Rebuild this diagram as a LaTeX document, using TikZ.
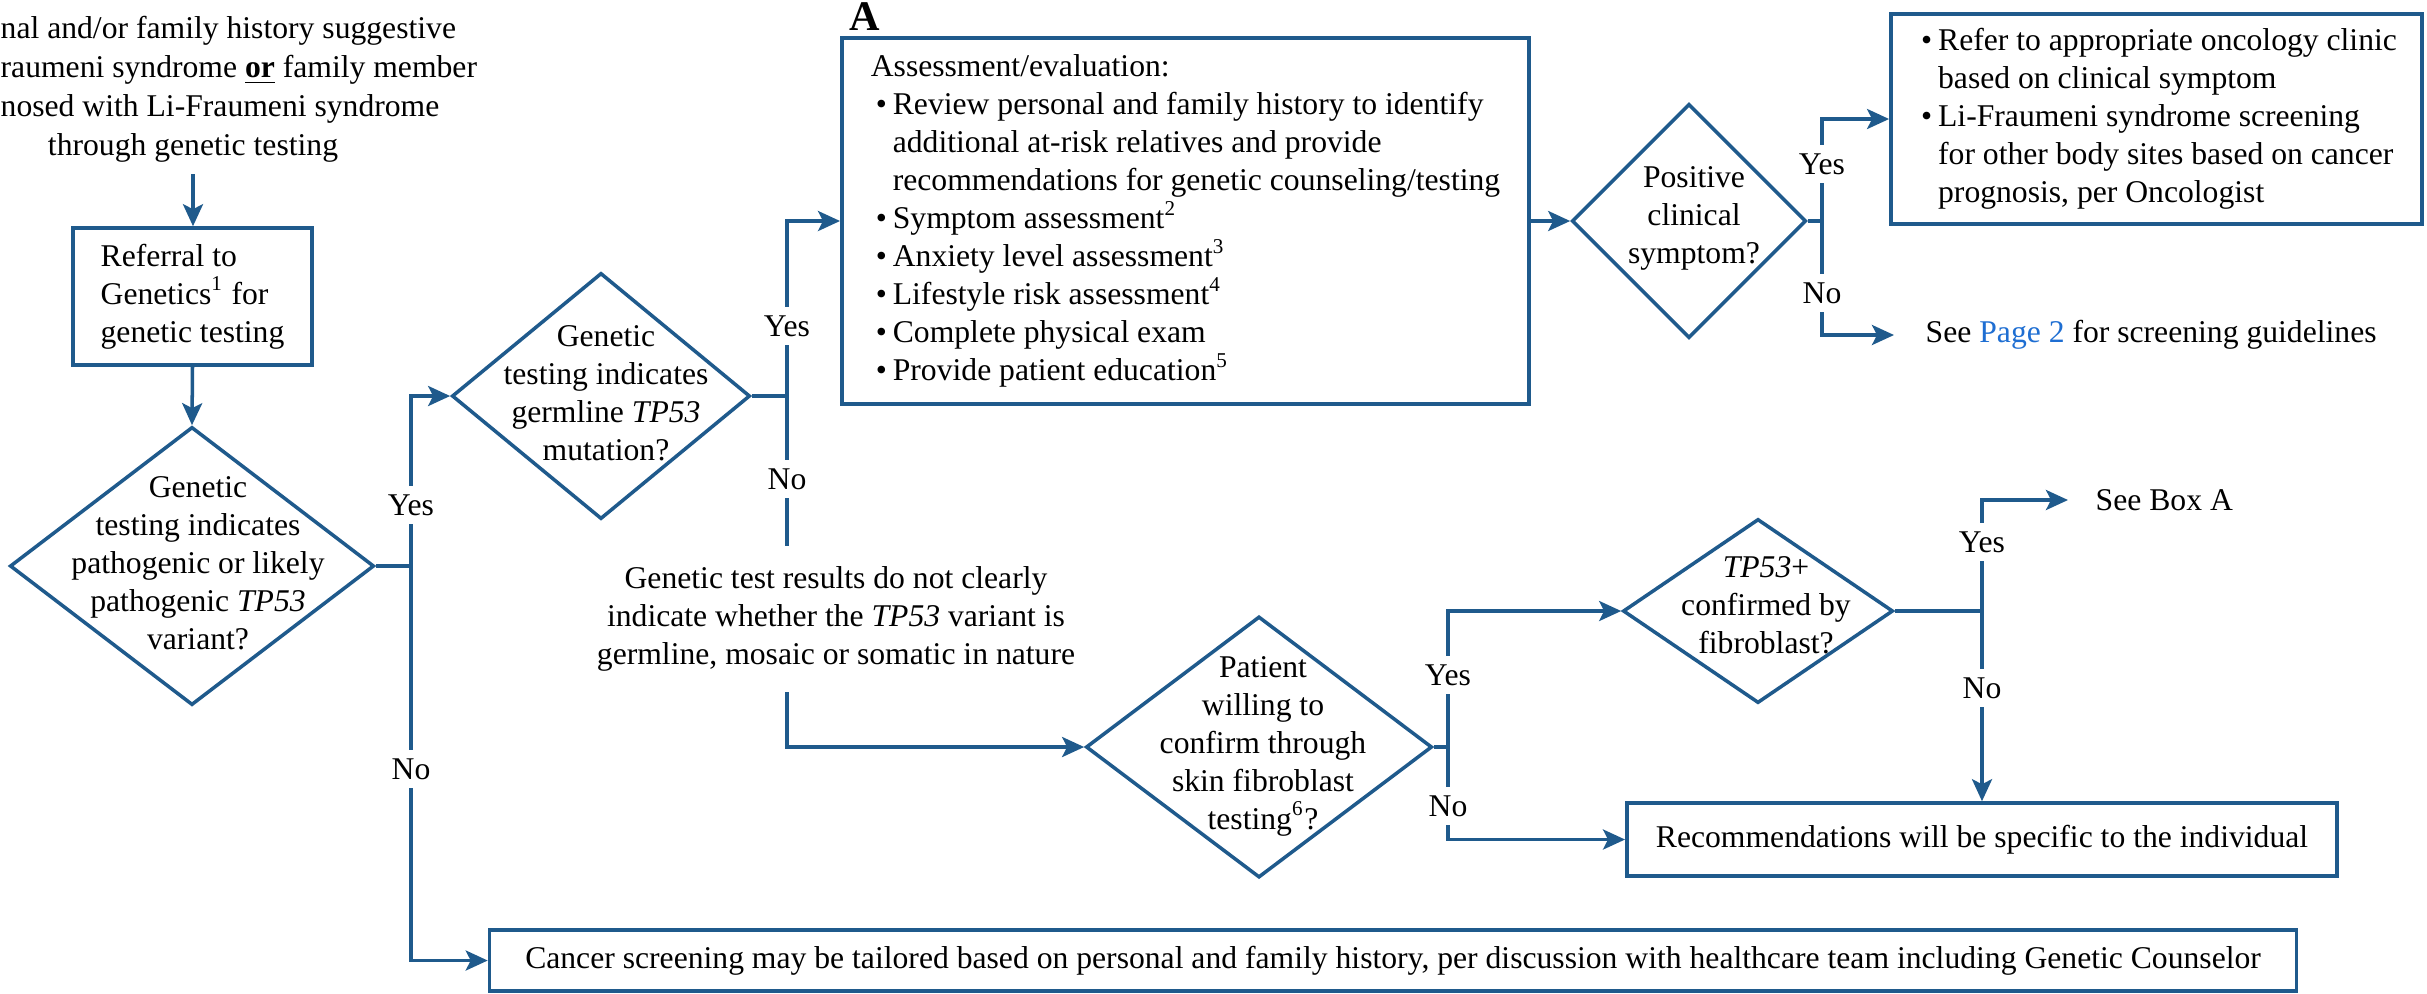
\documentclass[tikz,border=0pt]{standalone}
\usepackage{fontspec}
\setmainfont{Liberation Serif}
\usetikzlibrary{shapes.geometric,arrows.meta}
\definecolor{lc}{RGB}{31,90,140}
\definecolor{linkblue}{RGB}{30,110,210}
\newcommand{\bul}{\makebox[0.22cm][l]{\hspace{0.05cm}\textbullet}}
\newcommand{\ind}{\hspace*{0.22cm}}
\begin{document}
\begin{tikzpicture}[x=0.01cm,y=-0.01cm,
  every node/.style={font=\fontsize{9pt}{10.8pt}\selectfont},
  box/.style={draw=lc, line width=1pt, rectangle, inner sep=0pt, align=left},
  dia/.style={draw=lc, line width=1pt, diamond, inner sep=0pt},
  dtxt/.style={align=center, inner sep=0pt},
  lbl/.style={fill=white, inner xsep=1pt, inner ysep=2.5pt},
  conn/.style={draw=lc, line width=1pt},
  arr/.style={conn, -{Stealth[length=0.22cm,width=0.2cm,inset=0.05cm]}},
  intro/.style={anchor=base west, inner sep=0pt}]
\useasboundingbox (0,0) rectangle (2427,993);

% intro text
\node[intro] (intro1) at (0,38) {nal and/or family history suggestive};
\node[intro] (intro2) at (0,77) {raumeni syndrome \underline{\textbf{or}} family member};
\node[intro] (intro3) at (0,116) {nosed with Li-Fraumeni syndrome};
\node[anchor=base] (intro4) at (193,155) {through genetic testing};

\node[box, minimum width=2.39cm, minimum height=1.37cm] (ref) at (192.5,296.5)
  {Referral to\\Genetics\textsuperscript{1} for\\genetic testing};

\node[dia, minimum width=3.64cm, minimum height=2.78cm] (d1) at (192,566) {};
\node[dtxt] (d1t) at (198,563) {Genetic\\testing indicates\\pathogenic or likely\\pathogenic \textit{TP53}\\variant?};

\node[dia, minimum width=2.98cm, minimum height=2.46cm] (d2) at (601,396) {};
\node[dtxt] (d2t) at (606,393) {Genetic\\testing indicates\\germline \textit{TP53}\\mutation?};

\node[font=\fontsize{12pt}{14pt}\selectfont\bfseries, anchor=base, inner sep=0pt] (labA) at (865,30) {A};

\node[box, minimum width=6.87cm, minimum height=3.66cm] (A) at (1185.5,221)
  {Assessment/evaluation:\\
   \bul Review personal and family history to identify\\
   \ind additional at-risk relatives and provide\\
   \ind recommendations for genetic counseling/testing\\
   \bul Symptom assessment\textsuperscript{2}\\
   \bul Anxiety level assessment\textsuperscript{3}\\
   \bul Lifestyle risk assessment\textsuperscript{4}\\
   \bul Complete physical exam\\
   \bul Provide patient education\textsuperscript{5}};

\node[dia, minimum width=2.34cm, minimum height=2.34cm] (pos) at (1689,221) {};
\node[dtxt] (post) at (1694,218) {Positive\\clinical\\symptom?};

\node[box, minimum width=5.31cm, minimum height=2.10cm] (tr) at (2156.5,119)
  {\bul Refer to appropriate oncology clinic\\
   \ind based on clinical symptom\\
   \bul Li-Fraumeni syndrome screening\\
   \ind for other body sites based on cancer\\
   \ind prognosis, per Oncologist};

\node[anchor=west, inner xsep=0.31cm] (seeP2) at (1894,335) {See \textcolor{linkblue}{Page 2} for screening guidelines};

\node[align=center, inner xsep=0pt, inner ysep=0.2cm] (nores) at (836,619)
  {Genetic test results do not clearly\\indicate whether the \textit{TP53} variant is\\germline, mosaic or somatic in nature};

\node[dia, minimum width=3.46cm, minimum height=2.61cm] (d4) at (1259,747) {};
\node[dtxt] (d4t) at (1263,746) {Patient\\willing to\\confirm through\\skin fibroblast\\testing\textsuperscript{6}?};

\node[dia, minimum width=2.70cm, minimum height=1.84cm] (d5) at (1758,611) {};
\node[dtxt] (d5t) at (1766,605) {\textit{TP53}+\\confirmed by\\fibroblast?};

\node[anchor=west, inner xsep=0.27cm] (seeA) at (2068,500) {See Box A};

\node[box, align=center, minimum width=7.10cm, minimum height=0.73cm] (rec) at (1982,839.5)
  {Recommendations will be specific to the individual};

\node[box, align=center, minimum width=18.06cm, minimum height=0.61cm] (bot) at (1393,960.5)
  {Cancer screening may be tailored based on personal and family history, per discussion with healthcare team including Genetic Counselor};

% junctions
\coordinate (j1) at (411,566);
\coordinate (j2) at (787,396);
\coordinate (j3) at (1822,221);
\coordinate (j4) at (1448,747);
\coordinate (j5) at (1982,611);

% connectors
\draw[arr] (intro4.south) -- (intro4.south |- ref.north);
\draw[arr] (ref.south) -- (d1.north);
\draw[conn] (d1.east) -- (j1);
\draw[arr] (j1) |- (d2.west);
\draw[arr] (j1) |- (bot.west);
\draw[conn] (d2.east) -- (j2);
\draw[arr] (j2) |- (A.west);
\draw[conn] (j2) -- (j2 |- nores.north);
\draw[arr] (j2 |- nores.south) |- (d4.west);
\draw[arr] (A.east) -- (pos.west);
\draw[conn] (pos.east) -- (j3);
\draw[arr] (j3) |- (tr.west);
\draw[arr] (j3) |- (seeP2.west);
\draw[conn] (d4.east) -- (j4);
\draw[arr] (j4) |- (d5.west);
\draw[arr] (j4) |- (rec.west);
\draw[conn] (d5.east) -- (j5);
\draw[arr] (j5) |- (seeA.west);
\draw[arr] (j5) -- (j5 |- rec.north);

% labels
\node[lbl] (y1) at (411,505) {Yes};
\node[lbl] (n1) at (411,769) {No};
\node[lbl] (y2) at (787,326) {Yes};
\node[lbl] (n2) at (787,479) {No};
\node[lbl] (y3) at (1822,164) {Yes};
\node[lbl] (n3) at (1822,293) {No};
\node[lbl] (y4) at (1448,675) {Yes};
\node[lbl] (n4) at (1448,806) {No};
\node[lbl] (y5) at (1982,542) {Yes};
\node[lbl] (n5) at (1982,688) {No};
\end{tikzpicture}
\end{document}
